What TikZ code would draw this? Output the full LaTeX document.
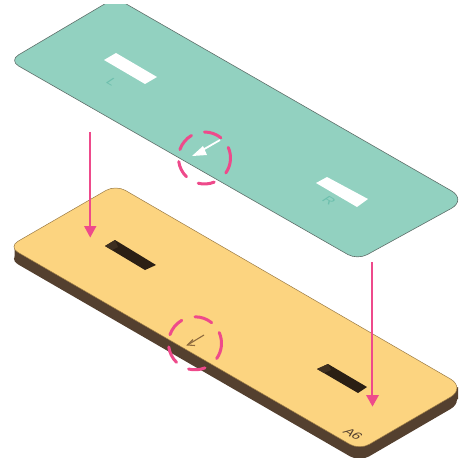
\documentclass[tikz,border=0pt]{standalone}
\usepackage{fontspec}
\setmainfont{Liberation Sans}
\definecolor{teal1}{HTML}{92D1C0}
\definecolor{tealtxt}{HTML}{6DBFAD}
\definecolor{tealedge}{HTML}{5F6F6A}
\definecolor{orng}{HTML}{FCD480}
\definecolor{orngedge}{HTML}{9A7A45}
\definecolor{brwn}{HTML}{54402F}
\definecolor{slotdark}{HTML}{2B1F14}
\definecolor{slotwall}{HTML}{3E2F20}
\definecolor{pinkk}{HTML}{EE4A8B}
\definecolor{tinyarrow}{HTML}{8E6B3E}
\tikzset{
  tealplate/.style={fill=teal1,draw=tealedge,line width=0.6pt,rounded corners=11pt},
  orngplate/.style={fill=orng,draw=orngedge,line width=0.5pt,rounded corners=11pt},
  sideplate/.style={fill=brwn,draw=none,rounded corners=11pt},
  sideband/.style={fill=brwn,draw=none},
  hole/.style={fill=white,draw=none},
  darkhole/.style={fill=slotdark,draw=none},
  wall/.style={fill=slotwall,draw=none},
  droparrow/.style={draw=pinkk,line width=2pt},
  drophead/.style={fill=pinkk,draw=none},
  dashring/.style={draw=pinkk,line width=3pt,line cap=round},
  platetext/.style={inner sep=0pt,transform shape,cm={.85,-.5,.75,.5,(0,0)}},
}
\newcommand{\ringarcs}[2]{%
  \foreach \aa/\bb in {90/51,24/-35,-68/-104,-134/-172,161/120}{%
    \draw[dashring] (#1)+({-\aa}:#2) arc ({-\aa}:{-\bb}:#2);
  }%
}
\newcommand{\bigtxt}{\fontsize{14}{14}\selectfont}
\begin{document}
\begin{tikzpicture}[x=1pt,y=-1pt]
\useasboundingbox (0,0) rectangle (462,457);
% lower plate
\path[sideplate] (8.4,258.8) -- (115.7,196.8) [rounded corners=18pt] -- (466,400) [rounded corners=11pt] -- (359.6,461.9) -- cycle;
\path[sideband] (14.5,246) -- (14.5,257) -- (360,457) -- (458,399) -- (458,387) -- (360,440) -- cycle;
\path[orngplate] (8.4,246.8) -- (115.7,184.8) [rounded corners=18pt] -- (466,388) [rounded corners=11pt] -- (359.6,449.9) -- cycle;
\path[darkhole] (115,240) -- (156,265) -- (145,270) -- (105,246) -- cycle;
\path[wall] (105,246) -- (115,240) -- (118,247) -- (112,250) -- cycle;
\path[darkhole] (328,364) -- (367,387) -- (358,393) -- (317,369) -- cycle;
\path[wall] (317,369) -- (328,364) -- (331,370) -- (324,373) -- cycle;
\coordinate (a6pos) at (353,434);
\node[platetext,text=brwn,font=\bigtxt] (a6) at (a6pos) {A6};
% upper plate
\begin{scope}
\clip (0,5) rectangle (462,457);
\path[tealplate] (9,60.5) -- (115.3,-2.3) [rounded corners=18pt] -- (467,199.8) [rounded corners=11pt] -- (357.4,260) -- cycle;
\end{scope}
\path[hole] (116,53) -- (157,77) -- (145,84) -- (104,60) -- cycle;
\path[hole] (327,177) -- (368,199) -- (357,207) -- (316,183) -- cycle;
\coordinate (lpos) at (112,82);
\coordinate (rpos) at (329,201);
\node[platetext,text=tealtxt,font=\bigtxt] (ltxt) at (lpos) {L};
\node[platetext,text=tealtxt,font=\bigtxt] (rtxt) at (rpos) {R};
% drop arrows
\coordinate (la) at (90,132);
\coordinate (lb) at (90,227);
\coordinate (ra) at (372,262);
\coordinate (rb) at (372,395);
\draw[droparrow] (la) -- (lb);
\path[drophead] (84,226) -- (96.5,226) -- (90.2,237.5) -- cycle;
\draw[droparrow] (ra) -- (rb);
\path[drophead] (366,395) -- (379,395) -- (372.5,406.5) -- cycle;
% rings
\coordinate (ring1) at (204.5,158);
\coordinate (ring2) at (195,343.3);
\ringarcs{ring1}{26}
\ringarcs{ring2}{26.5}
% direction marks
\coordinate (wa) at (220,140);
\coordinate (wb) at (200,151.5);
\draw[white,line width=1.8pt] (wa) -- (wb);
\path[fill=white] (192,156) -- (203,146) -- (207,155) -- cycle;
\coordinate (ba) at (204,335);
\coordinate (bb) at (187.5,345);
\draw[tinyarrow,line width=1.1pt] (ba) -- (bb);
\draw[tinyarrow,line width=1.1pt] (193,339.5) -- (187.5,345) -- (195,345.5);
\end{tikzpicture}
\end{document}
